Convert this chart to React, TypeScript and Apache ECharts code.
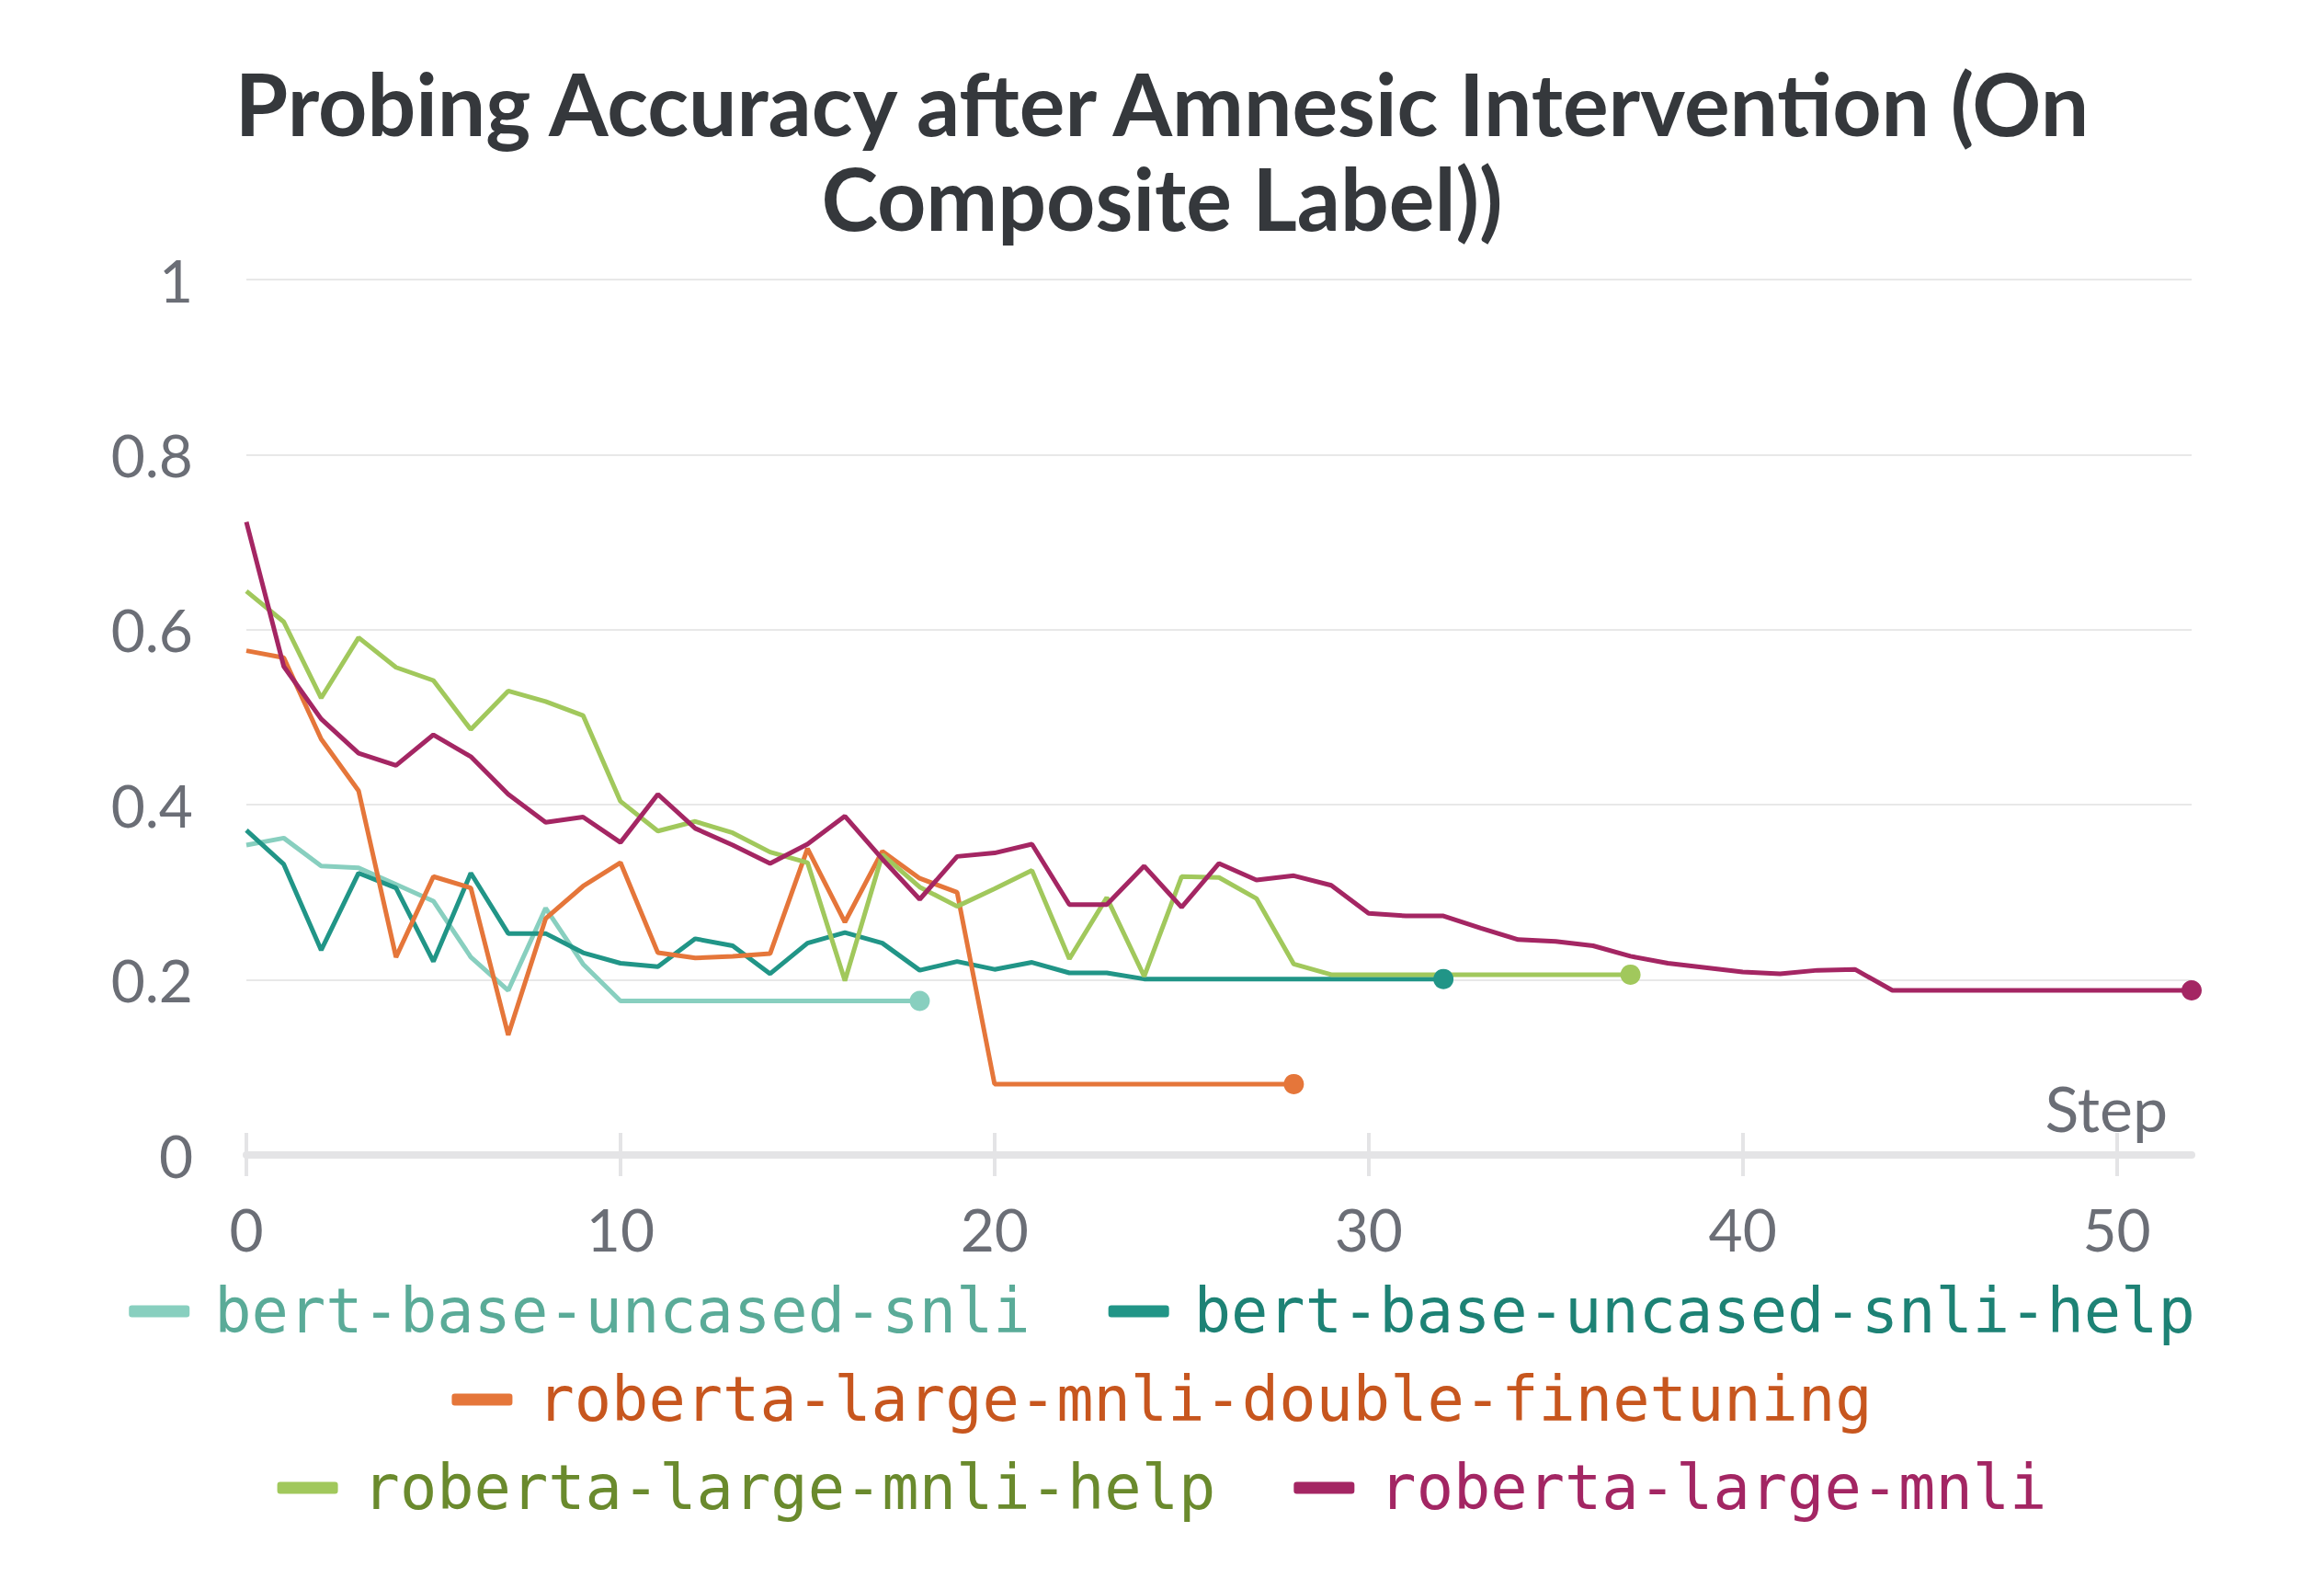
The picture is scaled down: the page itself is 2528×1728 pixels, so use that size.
import React, { useEffect, useRef } from "react";
import * as echarts from "echarts";

const seriesNames = [
  "bert-base-uncased-snli",
  "bert-base-uncased-snli-help",
  "roberta-large-mnli-double-finetuning",
  "roberta-large-mnli-help",
  "roberta-large-mnli",
];

const lineColors = ["#88cfbf", "#219587", "#e5763a", "#a1c85c", "#a42663"];
const legendTextColors = ["#5aab98", "#1d8275", "#c7561e", "#6a8a2d", "#a32663"];

const bertSnli = [
  0.354, 0.362, 0.33, 0.328, 0.309, 0.29, 0.226, 0.188, 0.282, 0.218, 0.176,
  0.176, 0.176, 0.176, 0.176, 0.176, 0.176, 0.176, 0.176,
];

const bertSnliHelp = [
  0.371, 0.332, 0.234, 0.322, 0.305, 0.221, 0.322, 0.253, 0.253, 0.231, 0.219,
  0.215, 0.247, 0.239, 0.207, 0.242, 0.254, 0.242, 0.211, 0.221, 0.212, 0.22,
  0.208, 0.208, 0.201, 0.201, 0.201, 0.201, 0.201, 0.201, 0.201, 0.201, 0.201,
];

const robertaDouble = [
  0.576, 0.568, 0.475, 0.416, 0.226, 0.318, 0.305, 0.137, 0.27, 0.307, 0.334,
  0.231, 0.225, 0.227, 0.23, 0.35, 0.266, 0.347, 0.316, 0.3, 0.081, 0.081,
  0.081, 0.081, 0.081, 0.081, 0.081, 0.081, 0.081,
];

const robertaHelp = [
  0.644, 0.609, 0.522, 0.591, 0.557, 0.542, 0.486, 0.53, 0.518, 0.502, 0.404,
  0.37, 0.381, 0.368, 0.346, 0.334, 0.199, 0.343, 0.306, 0.284, 0.304, 0.325,
  0.224, 0.294, 0.204, 0.318, 0.317, 0.293, 0.218, 0.206, 0.206, 0.206, 0.206,
  0.206, 0.206, 0.206, 0.206, 0.206,
];

const robertaMnli = [
  0.723, 0.558, 0.498, 0.459, 0.445, 0.48, 0.455, 0.412, 0.38, 0.386, 0.357,
  0.412, 0.373, 0.354, 0.333, 0.355, 0.387, 0.338, 0.292, 0.341, 0.345, 0.355,
  0.286, 0.286, 0.33, 0.283, 0.333, 0.314, 0.319, 0.308, 0.276, 0.273, 0.273,
  0.259, 0.246, 0.244, 0.239, 0.227, 0.219, 0.214, 0.209, 0.207, 0.211, 0.212,
  0.188, 0.188, 0.188, 0.188, 0.188, 0.188, 0.188, 0.188, 0.188,
];

const allValues = [bertSnli, bertSnliHelp, robertaDouble, robertaHelp, robertaMnli];

const xTicks = [0, 10, 20, 30, 40, 50];
const xMax = 52;

const legendRows = [[0, 1], [2], [3, 4]];

const titleText = "Probing Accuracy after Amnesic Intervention (On\nComposite Label))";

export default function App() {
  const ref = useRef<HTMLDivElement>(null);

  useEffect(() => {
    if (!ref.current) return;
    const chart = echarts.init(ref.current, null, { renderer: "svg" });

    const axisGray = "#e4e4e6";
    const labelGray = "#6b6e76";

    const series = allValues.map((vals, si) => ({
      name: seriesNames[si],
      type: "line",
      xAxisIndex: 0,
      yAxisIndex: 0,
      showSymbol: true,
      showAllSymbol: true,
      symbol: "circle",
      lineStyle: { width: 5, color: lineColors[si] },
      itemStyle: { color: lineColors[si] },
      emphasis: { disabled: true },
      data: vals.map((v, i) =>
        i === vals.length - 1
          ? { value: [i, v], symbol: "circle", symbolSize: 22 }
          : { value: [i, v], symbol: "none", symbolSize: 0 }
      ),
    }));

    const legendTops = [1388, 1484, 1580];
    const legends = legendRows.map((row, ri) => ({
      top: legendTops[ri],
      left: "center",
      padding: 0,
      orient: "horizontal",
      icon: "roundRect",
      itemWidth: 66,
      itemHeight: 13,
      itemGap: 85,
      selectedMode: false,
      textStyle: {
        fontFamily: "DejaVu Sans Mono",
        fontSize: 67,
        lineHeight: 76,
        padding: [0, 0, 0, 22],
      },
      data: row.map((si) => ({
        name: seriesNames[si],
        textStyle: { color: legendTextColors[si] },
      })),
    }));

    chart.setOption({
      animation: false,
      backgroundColor: "#ffffff",
      title: {
        text: titleText,
        left: "center",
        top: 55,
        textStyle: {
          fontFamily: "Lato",
          fontWeight: "bold",
          fontSize: 93,
          lineHeight: 103,
          color: "#35383c",
        },
      },
      legend: legends,
      grid: { left: 268, right: 144, top: 304, bottom: 472, containLabel: false },
      xAxis: [
        {
          type: "value",
          min: 0,
          max: xMax,
          interval: 10,
          position: "bottom",
          name: "Step",
          nameLocation: "end",
          nameGap: -26,
          nameTextStyle: {
            fontFamily: "Lato",
            fontSize: 68,
            color: labelGray,
            align: "right",
            verticalAlign: "bottom",
            padding: [0, 0, 18, 0],
          },
          axisLine: { show: true, lineStyle: { color: axisGray, width: 8 } },
          axisTick: { show: false },
          splitLine: { show: false },
          axisLabel: {
            show: true,
            customValues: xTicks,
            margin: 48,
            fontFamily: "Lato",
            fontSize: 64,
            color: labelGray,
          },
        },
        {
          type: "value",
          min: 0,
          max: xMax,
          interval: 10,
          position: "bottom",
          offset: -24,
          axisLine: { show: false },
          axisLabel: { show: false },
          splitLine: { show: false },
          axisTick: {
            show: true,
            customValues: xTicks,
            length: 47,
            lineStyle: { color: axisGray, width: 4 },
          },
        },
      ],
      yAxis: {
        type: "value",
        min: 0,
        max: 1,
        interval: 0.2,
        axisLine: { show: false },
        axisTick: { show: false },
        splitLine: { show: true, lineStyle: { color: "#e8e8e8", width: 2 } },
        axisLabel: {
          margin: 58,
          fontFamily: "Lato",
          fontSize: 64,
          color: labelGray,
        },
      },
      series,
    });

    return () => chart.dispose();
  }, []);

  return (
    <div
      ref={ref}
      style={{ position: "absolute", left: 0, top: 0, width: 2528, height: 1728 }}
    />
  );
}
